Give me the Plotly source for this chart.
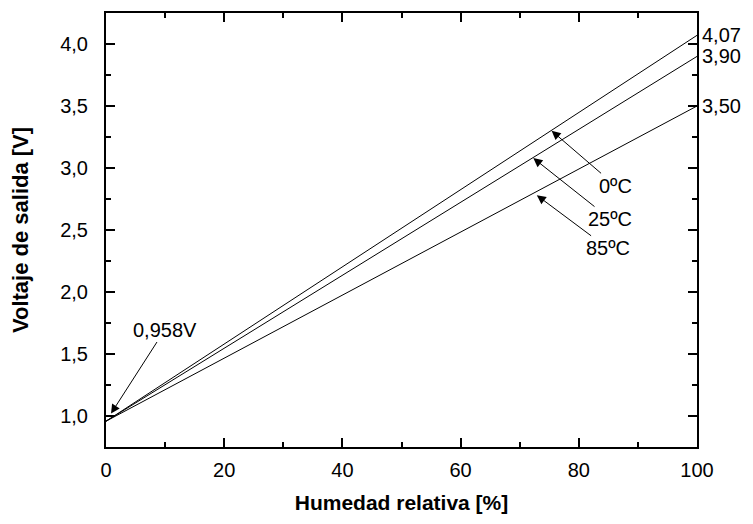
import plotly.graph_objects as go

humidity = [0, 100]
v_start = 0.958
v_end = {"0ºC": 4.07, "25ºC": 3.90, "85ºC": 3.50}
series_names = ["0ºC", "25ºC", "85ºC"]
x_ticks = [0, 20, 40, 60, 80, 100]
y_ticks = [1.0, 1.5, 2.0, 2.5, 3.0, 3.5, 4.0]

FONT = "Liberation Sans, Arial, sans-serif"
TF = dict(size=20, family=FONT, color="black")

fig = go.Figure()
for name in series_names:
    fig.add_trace(go.Scatter(x=humidity, y=[v_start, v_end[name]], mode="lines",
                             line=dict(color="black", width=1), name=name,
                             showlegend=False, hoverinfo="skip"))

# right-side end-value labels
for name in series_names:
    fig.add_annotation(x=1.0, xref="paper", y=v_end[name], yref="y",
                       text=f"{v_end[name]:.2f}".replace(".", ","), showarrow=False,
                       xanchor="left", xshift=3, font=TF)

# arrow labels (tip position on line, text offset in px)
arrow_specs = [
    ("0ºC", 75.4, 3.30, 64, 55),
    ("25ºC", 72.3, 3.08, 77, 61),
    ("85ºC", 72.9, 2.78, 71, 53),
]
for txt, x, y, ax, ay in arrow_specs:
    fig.add_annotation(x=x, y=y, text=txt, showarrow=True, ax=ax, ay=ay,
                       arrowhead=2, arrowsize=1.8, arrowwidth=1, arrowcolor="black",
                       font=TF)

fig.add_annotation(x=0.85, y=1.02, text=f"{v_start:.3f}".replace(".", ",") + "V",
                   showarrow=True, ax=54, ay=-84,
                   arrowhead=2, arrowsize=1.8, arrowwidth=1, arrowcolor="black",
                   font=TF)

axis_common = dict(showgrid=False, zeroline=False, showline=True, linecolor="black",
                   linewidth=2, mirror="allticks", ticks="inside", tickcolor="black",
                   tickwidth=1.5, color="black", tickfont=TF)

fig.update_xaxes(range=[0, 100], tickvals=x_ticks, ticklen=9, ticklabelstandoff=4,
                 minor=dict(ticks="inside", ticklen=5, dtick=10, tickcolor="black", tickwidth=1.5),
                 title=dict(text="<b>Humedad relativa [%]</b>", font=dict(size=21, family=FONT, color="black"), standoff=15),
                 **axis_common)
fig.update_yaxes(range=[0.75, 4.25], tickvals=y_ticks, tickformat=".1f", ticklen=9, ticklabelstandoff=12,
                 minor=dict(ticks="inside", ticklen=5, dtick=0.25, tickcolor="black", tickwidth=1.5),
                 title=dict(text="<b>Voltaje de salida [V]</b>", font=dict(size=22, family=FONT, color="black"), standoff=30),
                 **axis_common)

fig.update_layout(width=753, height=524, margin=dict(l=98, r=64, t=3, b=85),
                  plot_bgcolor="white", paper_bgcolor="white", separators=",.",
                  font=dict(family=FONT, color="black"))

fig.write_html("out.html")
